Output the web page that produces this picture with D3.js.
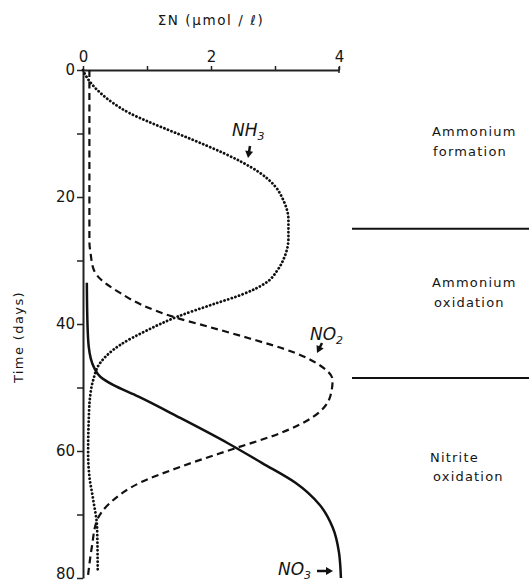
<!DOCTYPE html>
<html>
<head>
<meta charset="utf-8">
<script src="https://cdn.jsdelivr.net/npm/d3@7"></script>
<style>
  html, body { margin: 0; padding: 0; background: #fff; }
  svg { display: block; }
  text { font-family: "DejaVu Sans", sans-serif; fill: #151515; }
</style>
</head>
<body>
<div id="chart"></div>
<script>
// ---- data (day, µmol/l) ----
const nh3 = [[0,0],[1,0.05],[2,0.12],[3.6,0.27],[5.2,0.47],[6.8,0.73],[8,0.99],[9.3,1.3],[10.6,1.62],[11.9,1.93],[13.1,2.2],[14.5,2.48],[16.1,2.75],[18.3,3.0],[20.5,3.13],[23.6,3.21],[26.5,3.21],[29.4,3.15],[31.5,3.04],[33.5,2.86],[35.3,2.5],[36.9,2.03],[38.9,1.46],[41,1.0],[43.3,0.58],[46.1,0.27],[48.8,0.16],[51.5,0.11],[55,0.09],[60.3,0.08],[64,0.1],[67.7,0.16],[72,0.22],[79,0.23]];
const no2 = [[0,0.1],[10,0.1],[20,0.1],[27,0.1],[29,0.12],[31.5,0.17],[33,0.28],[35.1,0.58],[37,0.92],[38.9,1.42],[40.4,1.95],[42.2,2.58],[44.5,3.3],[46.5,3.7],[48.8,3.9],[51.5,3.86],[54.6,3.6],[57.2,3.08],[59.5,2.4],[62.5,1.52],[65,0.89],[68.2,0.42],[70.9,0.22],[75,0.14],[79.5,0.08]];
const no3 = [[33.5,0.06],[40,0.07],[43.6,0.09],[46.8,0.17],[48.3,0.27],[49.6,0.47],[51.4,0.86],[54.8,1.52],[58.7,2.25],[61.9,2.8],[65,3.32],[68.5,3.7],[72,3.9],[76,4.0],[80,4.03]];
const xTicks = [0,1,2,3,4];
const xLabels = [0,2,4];
const yTicks = [0,10,20,30,40,50,60,70,80];
const yLabels = [0,20,40,60,80];
const phaseBounds = [25, 48.5];
const phases = [
  {lines:["Ammonium","formation"], day:10.4, xs:[432,433]},
  {lines:["Ammonium","oxidation"], day:34.2, xs:[432,434]},
  {lines:["Nitrite","oxidation"], day:61.7, xs:[430,433]}
];

const W = 529, H = 583;
const svg = d3.select("#chart").append("svg").attr("width", W).attr("height", H);

const x = d3.scaleLinear().domain([0,4]).range([83,339]);
const y = d3.scaleLinear().domain([0,80]).range([70,578]);

// top axis
const gx = svg.append("g").attr("transform", `translate(0,${y(0)})`)
  .call(d3.axisTop(x).tickValues(xTicks)
    .tickFormat(d => xLabels.includes(d) ? d : "")
    .tickSizeInner(4).tickSizeOuter(0).tickPadding(4));
gx.select(".domain").attr("stroke", "#222").attr("stroke-width", 2);
gx.selectAll(".tick line").attr("stroke", "#222").attr("stroke-width", 1.5);
gx.selectAll(".tick text").attr("font-size", 15).attr("fill", "#151515")
  .attr("font-family", "DejaVu Sans, sans-serif");
svg.append("line").attr("x1", x(4)).attr("x2", x(4)).attr("y1", y(0)-3).attr("y2", y(0)+3)
  .attr("stroke", "#222").attr("stroke-width", 1.5);

// left axis
const gy = svg.append("g").attr("transform", `translate(${x(0)},0)`)
  .call(d3.axisLeft(y).tickValues(yTicks)
    .tickFormat(d => yLabels.includes(d) ? d : "")
    .tickSizeInner(6).tickSizeOuter(0).tickPadding(2));
gy.select(".domain").attr("stroke", "#222").attr("stroke-width", 2);
gy.selectAll(".tick line").attr("stroke", "#222").attr("stroke-width", 1.5);
gy.selectAll(".tick text").attr("font-size", 15).attr("fill", "#151515")
  .attr("font-family", "DejaVu Sans, sans-serif")
  .attr("dy", d => d === 80 ? "0.05em" : "0.32em");

// titles
svg.append("text").attr("x", 211).attr("y", 25).attr("text-anchor", "middle")
  .attr("font-size", 13.5).attr("letter-spacing", 1.6)
  .text("ΣN  (μmol / ℓ)");
svg.append("text").attr("transform", `translate(23,337) rotate(-90)`)
  .attr("text-anchor", "middle").attr("font-size", 13).attr("letter-spacing", 1.4)
  .text("Time (days)");

// curves
const line = d3.line().x(d => x(d[1])).y(d => y(d[0])).curve(d3.curveMonotoneY);
svg.append("path").datum(nh3).attr("d", line).attr("fill", "none")
  .attr("stroke", "#111").attr("stroke-width", 2.8)
  .attr("stroke-dasharray", "0.1 3.7").attr("stroke-linecap", "round");
svg.append("path").datum(no2).attr("d", line).attr("fill", "none")
  .attr("stroke", "#111").attr("stroke-width", 2.2)
  .attr("stroke-dasharray", "7 4.5");
svg.append("path").datum(no3).attr("d", line).attr("fill", "none")
  .attr("stroke", "#111").attr("stroke-width", 2.5);

// series labels
function chemLabel(xp, yp, base, sub) {
  const t = svg.append("text").attr("x", xp).attr("y", yp)
    .attr("font-size", 17).attr("font-style", "italic");
  t.append("tspan").text(base);
  t.append("tspan").attr("font-size", 11).attr("dy", 4).text(sub);
}
chemLabel(232, 136, "NH", "3");
chemLabel(310, 340, "NO", "2");
chemLabel(278, 575, "NO", "3");

// arrows
function arrow(x1, y1, x2, y2) {
  const a = Math.atan2(y2 - y1, x2 - x1);
  const hl = 7, hw = 4;
  svg.append("line").attr("x1", x1).attr("y1", y1)
    .attr("x2", x2 - Math.cos(a)*hl*0.6).attr("y2", y2 - Math.sin(a)*hl*0.6)
    .attr("stroke", "#111").attr("stroke-width", 2.5);
  const bx = x2 - Math.cos(a)*hl, by = y2 - Math.sin(a)*hl;
  const px = -Math.sin(a)*hw, py = Math.cos(a)*hw;
  svg.append("path")
    .attr("d", `M${x2},${y2}L${bx+px},${by+py}L${bx-px},${by-py}Z`)
    .attr("fill", "#111");
}
arrow(250, 146, 248, 158);
arrow(322, 343, 317, 353);
arrow(317, 571, 333, 571);

// phase separators
phaseBounds.forEach(d => {
  svg.append("line").attr("x1", 352).attr("x2", W).attr("y1", y(d)).attr("y2", y(d))
    .attr("stroke", "#111").attr("stroke-width", 1.8);
});
phases.forEach(p => {
  const t = svg.append("text").attr("font-size", 13).attr("letter-spacing", 1.2);
  p.lines.forEach((l, i) => {
    t.append("tspan").attr("x", p.xs[i]).attr("y", y(p.day) + i*19.5).text(l);
  });
});
</script>
</body>
</html>
